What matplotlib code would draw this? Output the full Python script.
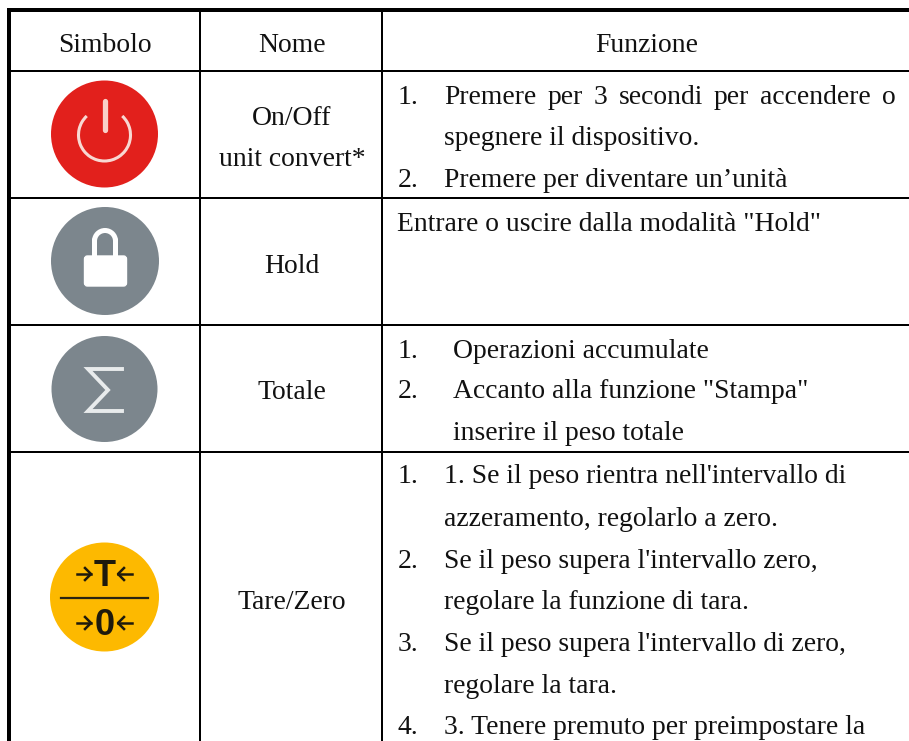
"""
Tabella dei tasti: simbolo, nome, funzione
"""
import matplotlib
matplotlib.use("Agg")
import matplotlib.pyplot as plt
from matplotlib.patches import Circle, Arc, FancyBboxPatch, Rectangle

plt.rcParams['font.family'] = ['Liberation Serif', 'DejaVu Serif']

headers = ["Simbolo", "Nome", "Funzione"]
names = ["On/Off", "unit convert*", "Hold", "Totale", "Tare/Zero"]

justified = "Premere per 3 secondi per accendere o"
on_off_text = [
    ("", "spegnere il dispositivo.", 145),
    ("2.", "Premere per diventare un\u2019unit\u00e0", 187),
]
hold_text = "Entrare o uscire dalla modalit\u00e0 \"Hold\""
totale_text = [
    ("1.", "Operazioni accumulate", 358),
    ("2.", "Accanto alla funzione \"Stampa\"", 398),
    ("", "inserire il peso totale", 440),
]
tare_text = [
    ("1.", "1. Se il peso rientra nell'intervallo di", 483),
    ("", "azzeramento, regolarlo a zero.", 526),
    ("2.", "Se il peso supera l'intervallo zero,", 568),
    ("", "regolare la funzione di tara.", 609),
    ("3.", "Se il peso supera l'intervallo di zero,", 651),
    ("", "regolare la tara.", 693),
    ("4.", "3. Tenere premuto per preimpostare la", 734),
]

W, H = 909, 741
FS = 19.9
RED, GREY, YEL = "#E2201C", "#7C868D", "#FDB900"
INK = '#1E1A0C'

fig = plt.figure(figsize=(W / 100, H / 100), dpi=100)
ax = fig.add_axes([0, 0, 1, 1])
ax.set_xlim(0, W)
ax.set_ylim(H, 0)
ax.axis('off')


def label(x, y, s, ha='left'):
    return ax.text(x, y, s, fontsize=FS, ha=ha, va='baseline', color='#111111')


# griglia
ax.add_patch(Rectangle((7, 8), W - 7, 4, color='black', lw=0))
ax.add_patch(Rectangle((7, 8), 4, H - 8, color='black', lw=0))
for x in [200, 382]:
    ax.add_patch(Rectangle((x - 1, 8), 2, H - 8, color='black', lw=0))
for y in [71, 198, 325, 452]:
    ax.add_patch(Rectangle((7, y - 1), W - 7, 2, color='black', lw=0))

# intestazioni
label(104.5, 52, headers[0], 'center')
label(292, 52, headers[1], 'center')
label(647, 52, headers[2], 'center')

# nomi
label(292, 125, names[0], 'center')
label(292, 166, names[1], 'center')
label(292, 273, names[2], 'center')
label(292, 399, names[3], 'center')
label(292, 609, names[4], 'center')

# riga 1, prima frase giustificata fino a x=896
label(398, 104, "1.")
words = justified.split()
fig.canvas.draw()
rend = fig.canvas.get_renderer()
items = [label(444, 104, w) for w in words]
widths = [t.get_window_extent(rend).width for t in items]
gap = (896 - 444 - sum(widths)) / (len(words) - 1)
x = 444
for t, w in zip(items, widths):
    t.set_x(x)
    x += w + gap

label(397, 231, hold_text)

for rows, tx in [(on_off_text, 444), (totale_text, 453), (tare_text, 444)]:
    for num, txt, y in rows:
        if num:
            label(398, y, num)
        label(tx, y, txt)

# icona on/off
ax.add_patch(Circle((104.5, 134), 53.5, color=RED, lw=0))
ax.add_patch(Arc((104.5, 135), 52, 52, theta1=-47, theta2=227, color='#F8D8D2', lw=2.2))
ax.plot([104.5, 104.5], [101, 130], color='#F9D0C8', lw=3.8, solid_capstyle='round')

# icona lucchetto
ax.add_patch(Circle((105, 261), 54, color=GREY, lw=0))
ax.add_patch(Arc((105, 241), 21, 21, theta1=180, theta2=360, color='white', lw=3.6))
ax.plot([94.5, 94.5, None, 115.5, 115.5], [241, 258, None, 241, 258], color='white', lw=3.6, snap=False)
ax.add_patch(FancyBboxPatch((84.5, 256), 42, 30, boxstyle="round,pad=0,rounding_size=3", fc='white', ec='white', lw=1))

# icona totale
ax.add_patch(Circle((104.5, 389), 53, color=GREY, lw=0))
ax.plot([122, 88, 108, 88, 122], [369, 369, 390, 411, 411], color='#E8EBEC', lw=2.8, solid_joinstyle='miter')

# icona tara/zero
ax.add_patch(Circle((104.5, 597), 54.5, color=YEL, lw=0))
ax.plot([61, 148], [598, 598], color='#2A2410', lw=1.6)
for cy, base, sym in [(574, 586, "T"), (623, 635, "0")]:
    ax.text(104.5, base, sym, fontsize=26, family='Liberation Sans', ha='center', va='baseline', color=INK, fontweight='bold')
    ax.plot([77, 91], [cy, cy], color=INK, lw=1.8)
    ax.plot([85, 91, 85], [cy - 6, cy, cy + 6], color=INK, lw=1.8)
    ax.plot([132, 118], [cy, cy], color=INK, lw=1.8)
    ax.plot([124, 118, 124], [cy - 6, cy, cy + 6], color=INK, lw=1.8)

fig.savefig("out.png", dpi=100)
